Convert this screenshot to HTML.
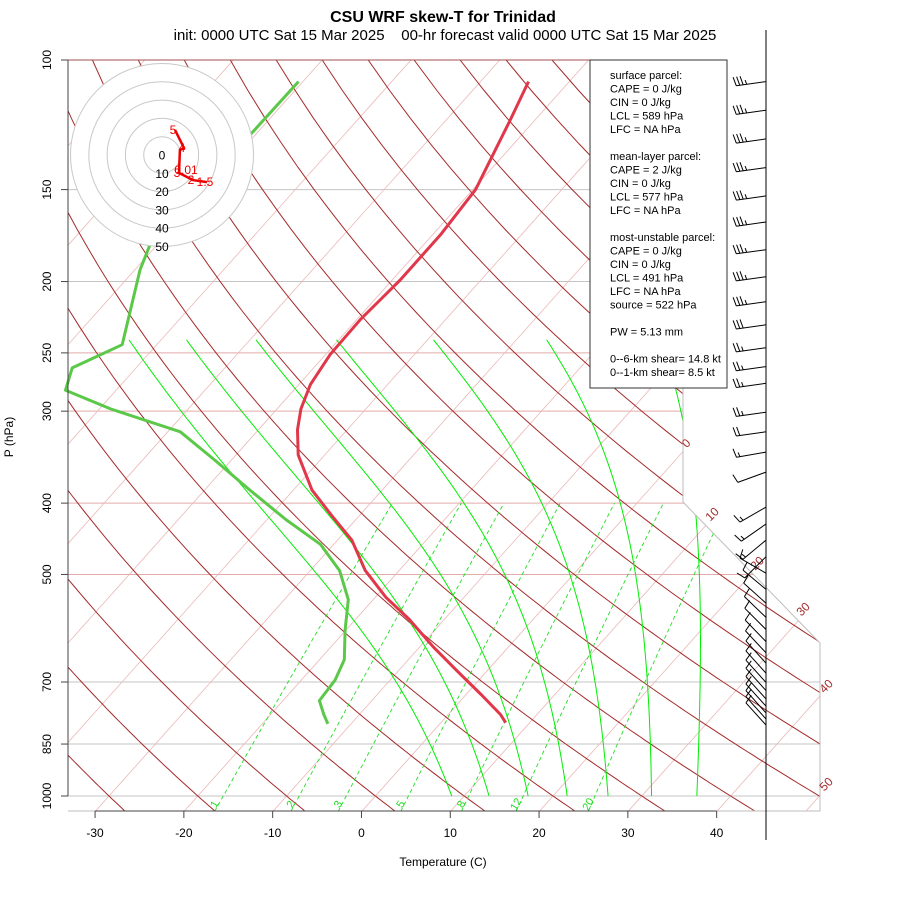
<!DOCTYPE html>
<html><head><meta charset="utf-8"><style>
html,body{margin:0;padding:0;background:#fff;}
svg{display:block;font-family:"Liberation Sans",Arial,sans-serif;}
</style></head><body>
<svg id="chart" width="900" height="900" viewBox="0 0 900 900">
<defs><clipPath id="frameClip"><polygon points="68,60 683,60 683,502 820,643 820,811 68,811"/></clipPath></defs>
<text x="443" y="22" text-anchor="middle" font-size="16" font-weight="bold">CSU WRF skew-T for Trinidad</text>
<text x="445" y="40" text-anchor="middle" font-size="15" xml:space="preserve">init: 0000 UTC Sat 15 Mar 2025    00-hr forecast valid 0000 UTC Sat 15 Mar 2025</text>
<g id="grid" clip-path="url(#frameClip)"></g>
<g id="frame"></g>
<g id="labels"></g>
<g id="profiles"></g>
<g id="axes"></g>
<g id="hodo"></g>
<g id="barbs"></g>
<g id="legend"></g>
<text x="443" y="866" text-anchor="middle" font-size="12">Temperature (C)</text>
<text transform="translate(13,437) rotate(-90)" text-anchor="middle" font-size="12">P (hPa)</text>
</svg>
<script>
// ---- data ----
const tempP = [107,120.6,150,172.8,199,225,251,276,298,318,344,384,416,449,494,537,575,627,676,729,775,795];
const tempC = [-54.6,-52.8,-49.7,-49.1,-49.1,-49.6,-49.5,-48.7,-47.3,-45.6,-43.0,-37.9,-33.1,-28.4,-23.8,-18.8,-14.0,-8.5,-3.4,1.8,5.9,7.3];
const dewP = [107,125.6,178.4,192.9,243.7,262,281,298,320,350,384,421,455,494,541,595,653,696,742,775,798];
const dewC = [-80.5,-80.6,-80.8,-79.4,-73.9,-77.2,-75.7,-68.7,-58.6,-51.8,-44.9,-37.9,-31.5,-26.7,-22.8,-20.1,-17.2,-16.2,-15.9,-14.0,-12.6];
const xTicks = [-30,-20,-10,0,10,20,30,40];
const pTicks = [100,150,200,250,300,400,500,700,850,1000];
const isoLabels = [0,10,20,30,40,50];
const mixRatios = [1,2,3,5,8,12,20];
const moistStarts = [8.6,12.8,17.2,21.6,26.2,31.1,36.2];
const barbP = [107,117,128,140,153,166,181,197,213,229,246,261,275,301,320,341,363,405,427,449,473,498,524,547,572,594,617,639,660,681,701,719,738,755,771,786,801];
const barbDir = [262,262,262,262,262,262,262,262,262,262,262,262,262,262,262,260,250,240,235,230,225,300,310,312,314,315,316,317,318,318,318,318,318,318,318,318,318];
const barbSpd = [35,35,35,35,35,35,35,35,35,30,25,25,25,25,20,15,10,15,15,15,10,10,10,10,10,10,10,10,10,10,10,10,10,10,10,10,10];
const hodoU = [7.1,12,9.8,9.3,16.9,24.6];
const hodoV = [13.7,3.8,2.7,-9.8,-13.7,-14.8];
const hodoLab = ["5","4","","3","2","1.5"];

// ---- scales ----
const Y0 = 811;
function yP(p){ return 60 + 736*Math.log10(p/100); }
function xT(t,p){ return 362 + 8.88*t + 0.893*(Y0 - yP(p)); }
const NS='http://www.w3.org/2000/svg';
function mk(tag, attrs, parent){ const e=document.createElementNS(NS,tag); for(const k in attrs) e.setAttribute(k,attrs[k]); parent.appendChild(e); return e; }
function pathFrom(pts){ return pts.map((q,i)=>(i?'L':'M')+q[0].toFixed(1)+','+q[1].toFixed(1)).join(''); }
const grid=document.getElementById('grid');

pTicks.forEach(p=>{
  const y=yP(p);
  const col=(p>=250&&p<=500)?'#e3aaaa':'#c4c4c4';
  const l=mk('line',{x1:68,x2:830,y1:y,y2:y,stroke:col,'stroke-width':1},grid);
  
  
});
for(let t=-120;t<=60;t+=10){
  const pts=[[xT(t,1050),yP(1050)],[xT(t,100),yP(100)]];
  const l=mk('path',{d:pathFrom(pts),stroke:'#ebb8b8','stroke-width':0.8,fill:'none'},grid);
  
  
}
for(let th=-40;th<=220;th+=10){
  const pts=[];
  for(let p=1050;p>=100;p-=10){ const T=(th+273.15)*Math.pow(p/1000,0.286)-273.15; pts.push([xT(T,p),yP(p)]); }
  const l=mk('path',{d:pathFrom(pts),stroke:'#a52a2a','stroke-width':1,fill:'none'},grid);
  
  
}
function tdFromW(w,p){ const e=w*p/(622+w); const a=Math.log(e/6.112); return 243.5*a/(17.67-a); }
mixRatios.forEach(w=>{
  const pts=[]; for(let p=1050;p>=400;p-=10) pts.push([xT(tdFromW(w,p),p),yP(p)]);
  const l=mk('path',{d:pathFrom(pts),stroke:'#22dd22','stroke-width':0.9,'stroke-dasharray':'4,3',fill:'none'},grid);
  
  
});
function dTdp(T,p,f){ const Tc=T-273.15; const es=6.112*Math.exp(17.67*Tc/(Tc+243.5)); const rs=f*0.622*es/(p-es); const L=2.5e6;
  return (287*T+L*rs)/(1004+L*L*rs*0.622/(287*T*T))/p; }
moistStarts.forEach((t0,i)=>{
  const f=0.95-0.028*i;
  let T=t0+273.15; const pts=[];
  for(let p=1000;p>=240;p-=2){ pts.push([xT(T-273.15,p),yP(p)]); T+= dTdp(T,p,f)*(-2); }
  const l=mk('path',{d:pathFrom(pts),stroke:'#00ee00','stroke-width':1,fill:'none'},grid);
  
  
});
const frame=document.getElementById('frame');
const f1=mk('polyline',{points:'683,60 683,502 820,643 820,811 68,811',fill:'none',stroke:'#bdbdbd','stroke-width':1},frame);


const f2=mk('line',{x1:68,x2:683,y1:60,y2:60,stroke:'#a05050','stroke-width':1},frame);



const labels=document.getElementById('labels');
const isoPos=[[689,446],[715,517],[760,566],[806,612],[829,689],[829,787]];
isoLabels.forEach((t,i)=>{
  const tx=mk('text',{x:isoPos[i][0],y:isoPos[i][1],fill:'#a52a2a','font-size':12,'text-anchor':'middle',transform:`rotate(-45 ${isoPos[i][0]} ${isoPos[i][1]})`},labels);
  tx.textContent=t;
  
  
});
mixRatios.forEach(w=>{
  const x=xT(tdFromW(w,1050),1050)+3, y=806;
  const tx=mk('text',{x:x,y:y,fill:'#22dd22','font-size':11,'text-anchor':'middle',transform:`rotate(-60 ${x} ${y})`},labels);
  tx.textContent=w;
  
  
});

const prof=document.getElementById('profiles');
const tp=mk('path',{d:pathFrom(tempP.map((p,i)=>[xT(tempC[i],p),yP(p)])),stroke:'#e0374a','stroke-width':3,fill:'none','stroke-linejoin':'round'},prof);


const dp=mk('path',{d:pathFrom(dewP.map((p,i)=>[xT(dewC[i],p),yP(p)])),stroke:'#5cc84a','stroke-width':3,fill:'none','stroke-linejoin':'round'},prof);



const axes=document.getElementById('axes');
const la=mk('line',{x1:68,x2:68,y1:yP(100),y2:yP(1000),stroke:'#444','stroke-width':1},axes);


pTicks.forEach(p=>{
  const y=yP(p);
  const tk=mk('line',{x1:61,x2:68,y1:y,y2:y,stroke:'#444'},axes);
  
  
  const tx=mk('text',{x:51,y:y,'font-size':12,'text-anchor':'middle',transform:`rotate(-90 51 ${y})`},axes);
  tx.textContent=p;
  
  
});
const ba=mk('line',{x1:xT(xTicks[0],1050),x2:xT(xTicks[xTicks.length-1],1050),y1:Y0,y2:Y0,stroke:'#444'},axes);


xTicks.forEach(t=>{
  const x=xT(t,1050);
  const tk=mk('line',{x1:x,x2:x,y1:Y0,y2:Y0+7,stroke:'#444'},axes);
  
  
  const tx=mk('text',{x:x,y:Y0+26,'font-size':12,'text-anchor':'middle'},axes);
  tx.textContent=t;
  
  
});

const hodo=document.getElementById('hodo');
const HC=[162,155], HS=1.83;
const bg=mk('circle',{cx:HC[0],cy:HC[1],r:50*HS,fill:'#fff',stroke:'none'},hodo);


for(let k=1;k<=5;k++){
  const c=mk('circle',{cx:HC[0],cy:HC[1],r:k*10*HS,fill:'none',stroke:'#c8c8c8','stroke-width':1},hodo);
  
  
}
for(let k=0;k<=5;k++){
  const tx=mk('text',{x:HC[0],y:HC[1]+k*10*HS+4.5,'font-size':12,'text-anchor':'middle'},hodo);
  tx.textContent=k*10;
  
  
}
const hpts=hodoU.map((u,i)=>[HC[0]+u*HS,HC[1]-hodoV[i]*HS]);
const hl=mk('path',{d:pathFrom(hpts),stroke:'#ee0000','stroke-width':2.5,fill:'none'},hodo);


hpts.forEach((q,i)=>{
  if(!hodoLab[i]) return;
  const tx=mk('text',{x:q[0]-2,y:q[1]+4,'font-size':12,fill:'#ee0000','text-anchor':'middle'},hodo);
  tx.textContent=hodoLab[i];
  
  
});
const tx0=mk('text',{x:186,y:174,'font-size':12,fill:'#ee0000','text-anchor':'middle'},hodo);
tx0.textContent='0.01';



const barbs=document.getElementById('barbs');
const sv=mk('line',{x1:766,x2:766,y1:30,y2:840,stroke:'#000','stroke-width':1},barbs);


barbP.forEach((p,i)=>{
  const y=yP(p), d=barbDir[i]*Math.PI/180;
  const vx=Math.sin(d), vy=-Math.cos(d), L=30;
  const tipx=766+vx*L, tipy=y+vy*L;
  let dstr=`M766,${y.toFixed(1)}L${tipx.toFixed(1)},${tipy.toFixed(1)}`;
  const fx=-vy, fy=vx;
  let s=barbSpd[i], k=0;
  while(s>=10){ const bx=tipx-vx*k*3.5, by=tipy-vy*k*3.5; dstr+=`M${bx.toFixed(1)},${by.toFixed(1)}l${(fx*9+vx*2).toFixed(1)},${(fy*9+vy*2).toFixed(1)}`; s-=10; k++; }
  if(s>=5){ if(k===0)k=1; const bx=tipx-vx*k*3.5, by=tipy-vy*k*3.5; dstr+=`M${bx.toFixed(1)},${by.toFixed(1)}l${(fx*4.5+vx*1).toFixed(1)},${(fy*4.5+vy*1).toFixed(1)}`; }
  const b=mk('path',{d:dstr,stroke:'#000','stroke-width':1,fill:'none'},barbs);
  
  
});

const lg=document.getElementById('legend');
const lb=mk('rect',{x:590,y:60,width:137,height:328,fill:'#fff',stroke:'#333','stroke-width':1},lg);


const lines=["surface parcel:","CAPE = 0 J/kg","CIN = 0 J/kg","LCL = 589 hPa","LFC = NA hPa","","mean-layer parcel:","CAPE = 2 J/kg","CIN = 0 J/kg","LCL = 577 hPa","LFC = NA hPa","","most-unstable parcel:","CAPE = 0 J/kg","CIN = 0 J/kg","LCL = 491 hPa","LFC = NA hPa","source = 522 hPa","","PW =  5.13 mm","","0--6-km shear= 14.8 kt","0--1-km shear= 8.5 kt"];
lines.forEach((t,i)=>{
  if(!t) return;
  const tx=mk('text',{x:610,y:79+i*13.5,'font-size':11,'xml:space':'preserve'},lg);
  tx.textContent=t;
  
  
});
</script>
</body></html>
